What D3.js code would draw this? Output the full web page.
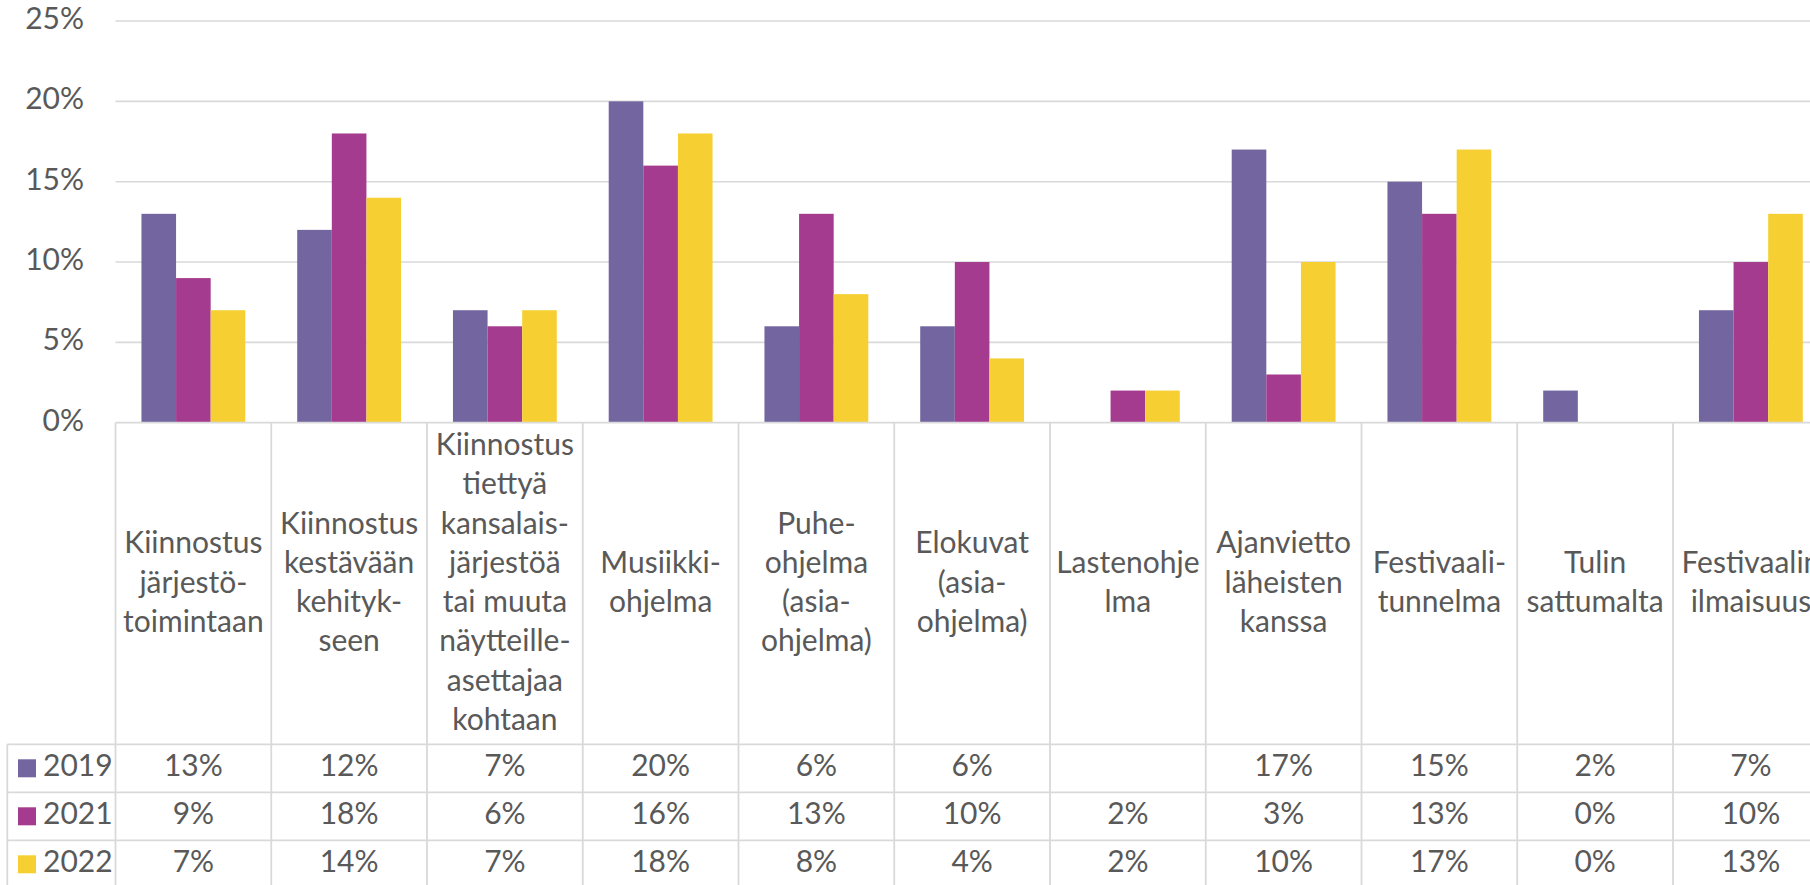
<!DOCTYPE html>
<html>
<head>
<meta charset="utf-8">
<script src="https://cdn.jsdelivr.net/npm/d3@7"></script>
<style>
  body { margin: 0; background: #fff; overflow: hidden; }
  svg { display: block; }
</style>
</head>
<body>
<div id="chart"></div>
<script>
// categories, already wrapped the way the picture shows them
const categories = [
  ['Kiinnostus', 'järjestö-', 'toimintaan'],
  ['Kiinnostus', 'kestävään', 'kehityk-', 'seen'],
  ['Kiinnostus', 'tiettyä', 'kansalais-', 'järjestöä', 'tai muuta', 'näytteille-', 'asettajaa', 'kohtaan'],
  ['Musiikki-', 'ohjelma'],
  ['Puhe-', 'ohjelma', '(asia-', 'ohjelma)'],
  ['Elokuvat', '(asia-', 'ohjelma)'],
  ['Lastenohje', 'lma'],
  ['Ajanvietto', 'läheisten', 'kanssa'],
  ['Festivaali-', 'tunnelma'],
  ['Tulin', 'sattumalta'],
  ['Festivaalin', 'ilmaisuus']
];
const years = ['2019', '2021', '2022'];
const values2019 = [13, 12, 7, 20, 6, 6, null, 17, 15, 2, 7];
const values2021 = [9, 18, 6, 16, 13, 10, 2, 3, 13, 0, 10];
const values2022 = [7, 14, 7, 18, 8, 4, 2, 10, 17, 0, 13];
const yTicks = [0, 5, 10, 15, 20, 25];
const colors = ['#7366a0', '#a43b8e', '#f6d033'];

const series = [values2019, values2021, values2022];

const width = 1810, height = 885;
const plotLeft = 115.5, catW = 155.75;
const y0 = 422.7, yTop = 21;
const rowTop = 744.3, rowH = 48;
const tableLeft = 7.3;
const lineH = 39.3;
const font = 'Lato, "Open Sans", sans-serif';
const fs = 30;
const textColor = '#595959';
const gridColor = '#d9d9d9';

const x = d3.scaleBand()
  .domain(d3.range(categories.length))
  .range([plotLeft, plotLeft + catW * categories.length]);
const x1 = d3.scaleBand()
  .domain(years)
  .range([0, x.bandwidth()])
  .paddingOuter(0.75);
const y = d3.scaleLinear().domain([0, 25]).range([y0, yTop]);

const svg = d3.select('#chart').append('svg')
  .attr('width', width).attr('height', height)
  .style('font-family', font);

// gridlines
svg.append('g').selectAll('line').data(yTicks.filter(d => d > 0)).join('line')
  .attr('x1', plotLeft).attr('x2', width)
  .attr('y1', d => y(d)).attr('y2', d => y(d))
  .attr('stroke', gridColor).attr('stroke-width', 1.6);

// y labels
svg.append('g').selectAll('text').data(yTicks).join('text')
  .attr('x', 84).attr('y', d => y(d) + 8)
  .attr('text-anchor', 'end')
  .attr('fill', textColor).attr('font-size', fs)
  .text(d => d + '%');

// bars
const groups = svg.append('g').selectAll('g').data(categories).join('g')
  .attr('transform', (d, i) => `translate(${x(i)},0)`);
groups.selectAll('rect')
  .data((d, i) => years.map((yr, k) => ({ yr, k, v: series[k][i] })).filter(e => e.v != null && e.v > 0))
  .join('rect')
  .attr('x', e => x1(e.yr))
  .attr('width', x1.bandwidth())
  .attr('y', e => y(e.v))
  .attr('height', e => y0 - y(e.v))
  .attr('fill', e => colors[e.k]);

// table grid
const tbl = svg.append('g').attr('stroke', gridColor).attr('stroke-width', 1.8);
tbl.append('line').attr('x1', plotLeft).attr('x2', width).attr('y1', y0).attr('y2', y0);
[0, 1, 2].forEach(r => {
  tbl.append('line').attr('x1', tableLeft).attr('x2', width)
    .attr('y1', rowTop + r * rowH).attr('y2', rowTop + r * rowH);
});
tbl.append('line').attr('x1', tableLeft).attr('x2', tableLeft).attr('y1', rowTop).attr('y2', height);
d3.range(categories.length + 1).forEach(i => {
  const xx = plotLeft + i * catW;
  tbl.append('line').attr('x1', xx).attr('x2', xx).attr('y1', y0).attr('y2', height);
});

// category header text
const headMid = (y0 + rowTop) / 2;
groups.each(function(lines) {
  const g = d3.select(this);
  const t = g.append('text')
    .attr('text-anchor', 'middle')
    .attr('fill', textColor).attr('font-size', fs);
  lines.forEach((ln, j) => {
    t.append('tspan')
      .attr('x', x.bandwidth() / 2)
      .attr('y', headMid + (j - (lines.length - 1) / 2) * lineH + 9)
      .text(ln);
  });
});

// table rows: legend + values
years.forEach((yr, k) => {
  const top = rowTop + k * rowH;
  svg.append('rect').attr('x', 18).attr('y', top + 15)
    .attr('width', 18).attr('height', 18).attr('fill', colors[k]);
  svg.append('text').attr('x', 43).attr('y', top + 32)
    .attr('fill', textColor).attr('font-size', fs).text(yr);
  svg.append('g').selectAll('text').data(series[k]).join('text')
    .attr('x', (d, i) => x(i) + x.bandwidth() / 2)
    .attr('y', top + 32)
    .attr('text-anchor', 'middle')
    .attr('fill', textColor).attr('font-size', fs)
    .text(d => d == null ? '' : d + '%');
});
</script>
</body>
</html>
